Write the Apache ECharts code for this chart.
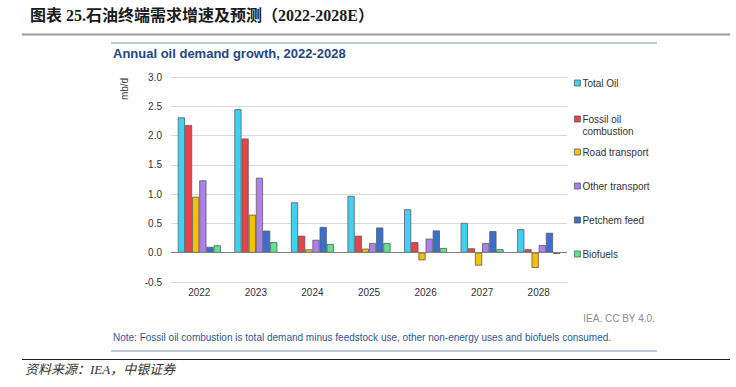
<!DOCTYPE html>
<html>
<head>
<meta charset="utf-8">
<script src="https://cdn.jsdelivr.net/npm/echarts@6/dist/echarts.min.js"></script>
<style>
html,body{margin:0;padding:0;background:#fff;}
#chart{width:736px;height:387px;}
</style>
</head>
<body>
<div id="chart"></div>
<script>
var categories = ['2022', '2023', '2024', '2025', '2026', '2027', '2028'];
var totalOil = [2.31, 2.45, 0.86, 0.97, 0.74, 0.51, 0.40];
var fossilCombustion = [2.18, 1.95, 0.29, 0.29, 0.18, 0.075, 0.06];
var roadTransport = [0.955, 0.65, 0.057, 0.07, -0.13, -0.22, -0.26];
var otherTransport = [1.235, 1.28, 0.22, 0.165, 0.24, 0.165, 0.13];
var petchemFeed = [0.10, 0.377, 0.44, 0.43, 0.38, 0.37, 0.34];
var biofuels = [0.125, 0.18, 0.15, 0.165, 0.08, 0.06, -0.02];
var yTicks = ['-0.5', '0.0', '0.5', '1.0', '1.5', '2.0', '2.5', '3.0'];

var seriesNames = ['Total Oil', 'Fossil oil combustion', 'Road transport', 'Other transport', 'Petchem feed', 'Biofuels'];
var seriesData = [totalOil, fossilCombustion, roadTransport, otherTransport, petchemFeed, biofuels];
var colors = ['#40d0f4', '#e54546', '#f6c100', '#ad80ef', '#3a6ecf', '#5fe28e'];
var legendCenters = [84, 119, 153, 187, 221, 255];

var font = '"Liberation Sans", Arial, sans-serif';
var chart = echarts.init(document.getElementById('chart'), null, {renderer: 'svg'});

var series = seriesNames.map(function (n, i) {
  var s = {
    name: n,
    type: 'bar',
    data: seriesData[i],
    barGap: '0%',
    barCategoryGap: '24%',
    itemStyle: {color: colors[i], borderColor: '#5a5a5a', borderWidth: 0.8},
    emphasis: {disabled: true}
  };
  if (i === 0) {
    s.markLine = {
      silent: true, symbol: 'none',
      label: {show: false},
      lineStyle: {color: '#7f7f7f', width: 1, type: 'solid'},
      data: [{yAxis: 0}]
    };
  }
  return s;
});

var legends = seriesNames.map(function (n, i) {
  var lg = {
    data: [n],
    left: 574,
    top: legendCenters[i] - 6,
    padding: 0,
    icon: 'rect',
    itemWidth: 6,
    itemHeight: 6,
    itemGap: 0,
    selectedMode: false,
    textStyle: {fontFamily: font, fontSize: 10, color: '#333', padding: [0, 0, 0, -3]},
    itemStyle: {borderColor: '#5a5a5a', borderWidth: 0.8}
  };
  if (i === 1) {
    lg.formatter = function () { return '\u00a0\nFossil oil\ncombustion'; };
    lg.textStyle = {fontFamily: font, fontSize: 10, color: '#333', lineHeight: 12, padding: [0, 0, 0, -3]};
    lg.top = legendCenters[i] - 18;
  }
  return lg;
});

var option = {
  animation: false,
  color: colors,
  legend: legends,
  grid: {left: 171, right: 169, top: 77, bottom: 105},
  xAxis: {
    type: 'category',
    data: categories,
    axisLine: {show: false},
    axisTick: {show: false},
    axisLabel: {fontFamily: font, fontSize: 10, color: '#333', margin: 5}
  },
  yAxis: {
    type: 'value',
    min: -0.5, max: 3.0, interval: 0.5,
    axisLine: {show: false},
    axisTick: {show: false},
    splitLine: {lineStyle: {color: '#d9d9d9', width: 1}},
    axisLabel: {
      fontFamily: font, fontSize: 10, color: '#333', margin: 9,
      formatter: function (v) { return yTicks[Math.round((v + 0.5) / 0.5)]; }
    }
  },
  series: series,
  graphic: [
    {type: 'text', left: 30, top: 7, style: {text: '图表 25.石油终端需求增速及预测（2022-2028E）', fontFamily: '"Liberation Serif", "Noto Sans CJK SC", serif', fontWeight: 'bold', fontSize: 16, fill: '#1a1a1a'}},
    {type: 'line', shape: {x1: 22, y1: 34.5, x2: 730, y2: 34.5}, style: {stroke: '#9a9a9a', lineWidth: 2}},
    {type: 'line', shape: {x1: 111, y1: 43, x2: 657, y2: 43}, style: {stroke: '#a9b8cc', lineWidth: 1.5}},
    {type: 'text', left: 113, top: 47, style: {text: 'Annual oil demand growth, 2022-2028', fontFamily: font, fontWeight: 'bold', fontSize: 13, fill: '#24477f'}},
    {type: 'text', x: 124, y: 89, rotation: Math.PI / 2, style: {text: 'mb/d', fontFamily: font, fontSize: 10, fill: '#333', align: 'center', verticalAlign: 'middle'}},
    {type: 'text', right: 81, top: 313, style: {text: 'IEA. CC BY 4.0.', fontFamily: font, fontSize: 10, fill: '#8a8a8a'}},
    {type: 'text', left: 113, top: 332, style: {text: 'Note: Fossil oil combustion is total demand minus feedstock use, other non-energy uses and biofuels consumed.', fontFamily: font, fontSize: 10, fill: '#2f5597'}},
    {type: 'line', shape: {x1: 111, y1: 351, x2: 657, y2: 351}, style: {stroke: '#a9b8cc', lineWidth: 1.5}},
    {type: 'line', shape: {x1: 22, y1: 359.5, x2: 730, y2: 359.5}, style: {stroke: '#222', lineWidth: 1}},
    {type: 'text', left: 25, top: 363, style: {text: '资料来源：IEA，中银证券', fontFamily: '"Liberation Serif", "Noto Sans CJK SC", serif', fontStyle: 'italic', fontSize: 13, fill: '#333'}}
  ]
};
chart.setOption(option);
</script>
</body>
</html>
